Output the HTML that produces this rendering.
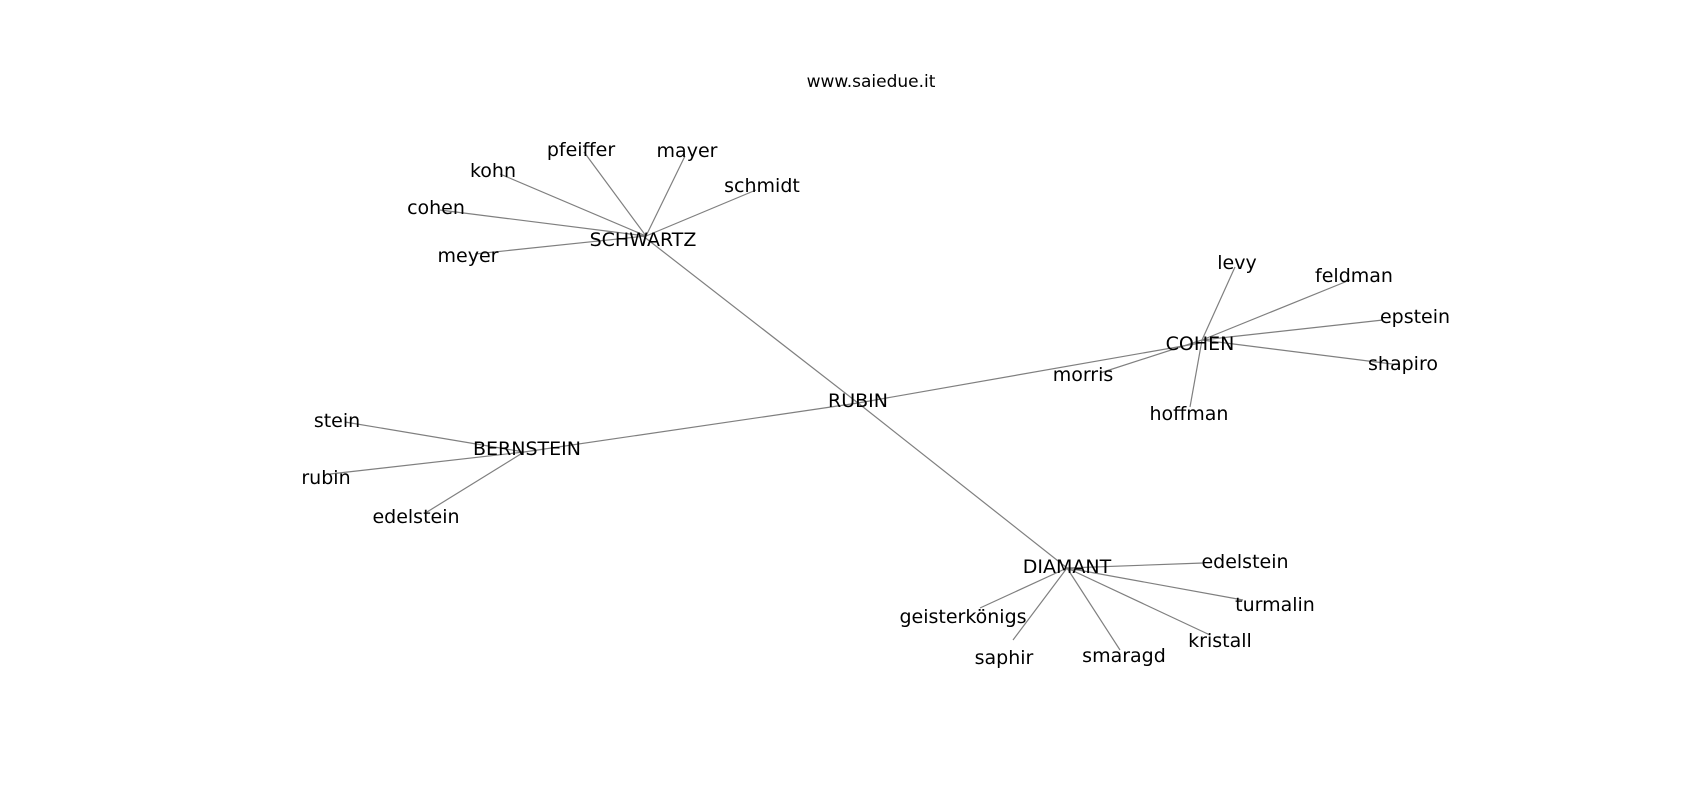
<!DOCTYPE html>
<html><head><meta charset="utf-8"><style>
html,body{margin:0;padding:0;background:#fff;}
svg{display:block}
text{font-family:"DejaVu Sans","Liberation Sans",sans-serif;fill:#000;dominant-baseline:central;text-anchor:middle}
</style></head><body>
<svg width="1700" height="800" viewBox="0 0 1700 800" xmlns="http://www.w3.org/2000/svg">
<g stroke="#7f7f7f" stroke-width="1.2" fill="none">
<line x1="643" y1="236" x2="858" y2="403"/>
<line x1="858" y1="403" x2="1200" y2="343"/>
<line x1="858" y1="403" x2="524" y2="452"/>
<line x1="858" y1="403" x2="1067" y2="568"/>
<line x1="646" y1="236" x2="584" y2="152"/>
<line x1="646" y1="236" x2="685" y2="156"/>
<line x1="646" y1="236" x2="500" y2="174"/>
<line x1="646" y1="236" x2="756" y2="190"/>
<line x1="646" y1="236" x2="440" y2="210"/>
<line x1="646" y1="236" x2="475" y2="254"/>
<line x1="1202" y1="340" x2="1235" y2="267"/>
<line x1="1202" y1="340" x2="1350" y2="280"/>
<line x1="1202" y1="340" x2="1383" y2="320"/>
<line x1="1202" y1="340" x2="1400" y2="365"/>
<line x1="1202" y1="340" x2="1190" y2="407"/>
<line x1="1202" y1="340" x2="1100" y2="373"/>
<line x1="524" y1="452" x2="345" y2="422"/>
<line x1="524" y1="452" x2="330" y2="474"/>
<line x1="524" y1="452" x2="427" y2="512"/>
<line x1="1067" y1="568" x2="1203" y2="563"/>
<line x1="1067" y1="568" x2="1243" y2="600"/>
<line x1="1067" y1="568" x2="1210" y2="635"/>
<line x1="1067" y1="568" x2="1120" y2="650"/>
<line x1="1067" y1="568" x2="1013" y2="640"/>
<line x1="1067" y1="568" x2="980" y2="608"/>
</g>
<text x="871" y="82" style="font-size:17px">www.saiedue.it</text>
<g style="font-size:19px">
<text x="643" y="240">SCHWARTZ</text>
<text x="581" y="150">pfeiffer</text>
<text x="687" y="151">mayer</text>
<text x="493" y="171">kohn</text>
<text x="762" y="186">schmidt</text>
<text x="436" y="208">cohen</text>
<text x="468" y="256">meyer</text>
<text x="858" y="401">RUBIN</text>
<text x="1200" y="344">COHEN</text>
<text x="1237" y="263">levy</text>
<text x="1354" y="276">feldman</text>
<text x="1415" y="317">epstein</text>
<text x="1403" y="364">shapiro</text>
<text x="1083" y="375">morris</text>
<text x="1189" y="414">hoffman</text>
<text x="527" y="449">BERNSTEIN</text>
<text x="337" y="421">stein</text>
<text x="326" y="478">rubin</text>
<text x="416" y="517">edelstein</text>
<text x="1067" y="567">DIAMANT</text>
<text x="1245" y="562">edelstein</text>
<text x="1275" y="605">turmalin</text>
<text x="1220" y="641">kristall</text>
<text x="1124" y="656">smaragd</text>
<text x="1004" y="658">saphir</text>
<text x="963" y="617">geisterkönigs</text>
</g>
</svg>
</body></html>
